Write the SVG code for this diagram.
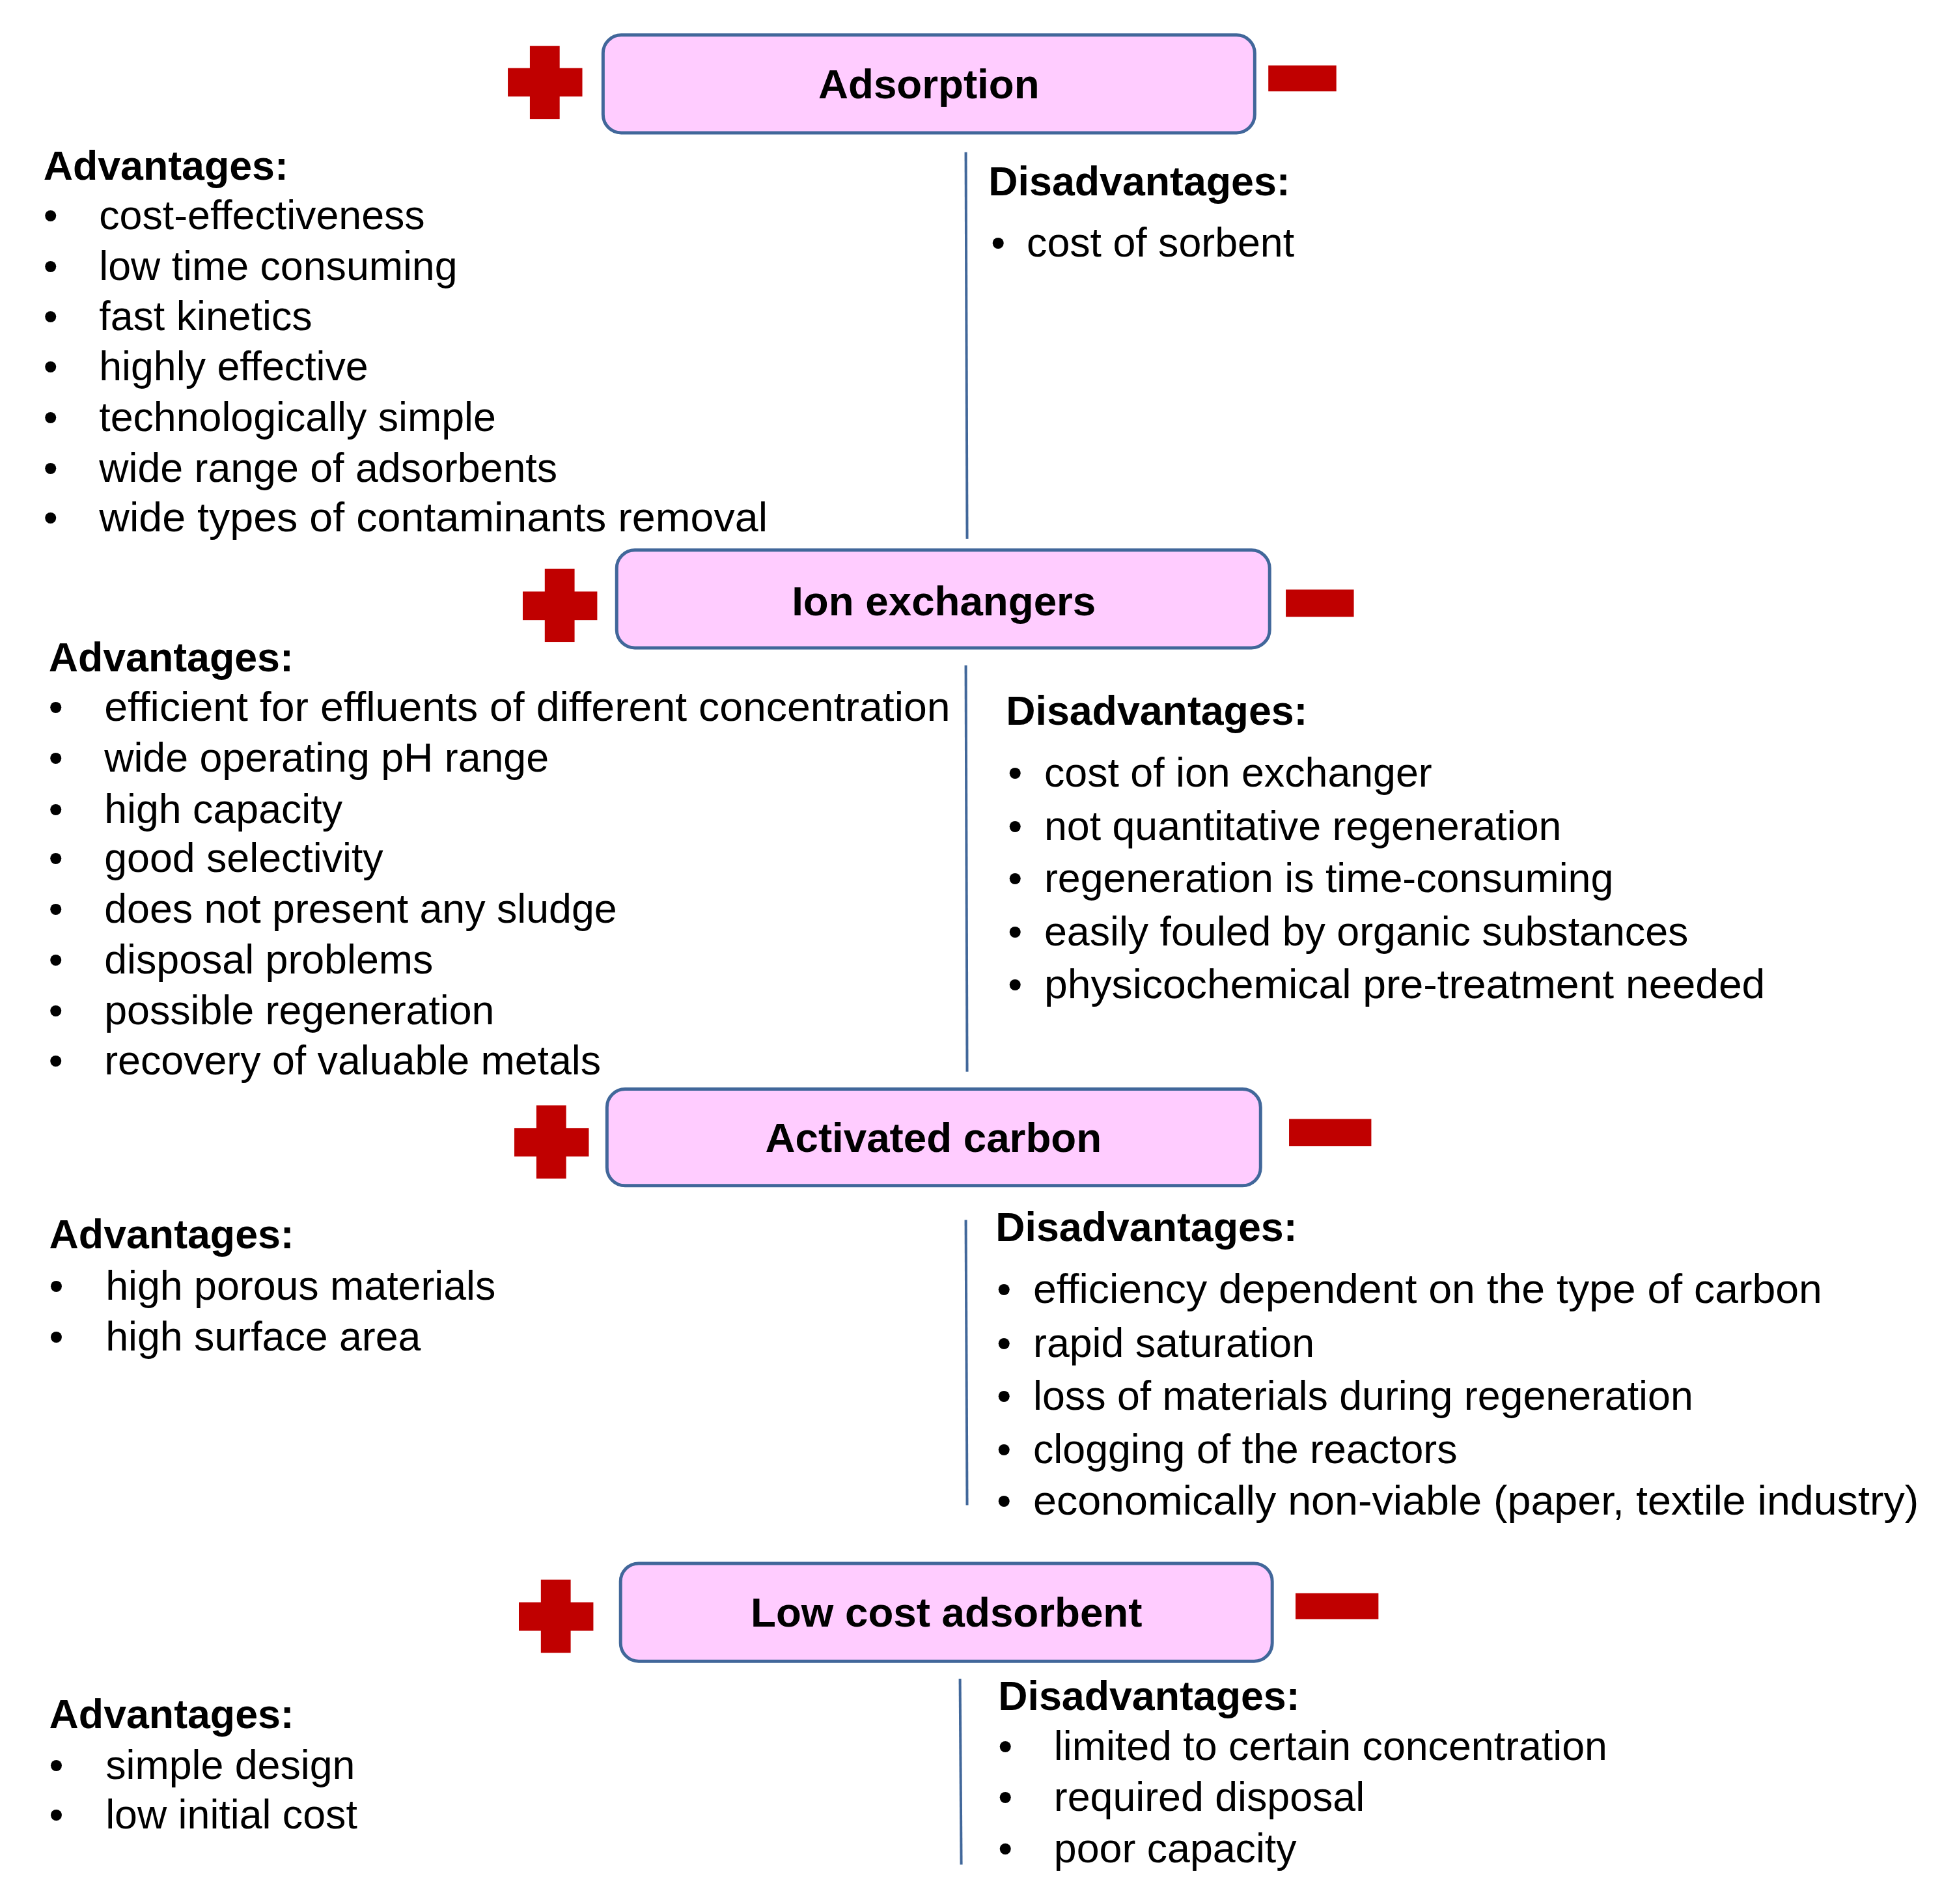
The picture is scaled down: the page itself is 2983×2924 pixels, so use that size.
<svg xmlns="http://www.w3.org/2000/svg" width="2983" height="2924" viewBox="0 0 2983 2924">
<style>
.box{fill:#ffccff;stroke:#41679a;stroke-width:5}
.t{font-family:"Liberation Sans",Arial,sans-serif;font-weight:bold;font-size:64px;text-anchor:middle}
.h{font-family:"Liberation Sans",Arial,sans-serif;font-weight:bold;font-size:63px}
.b{font-family:"Liberation Sans",Arial,sans-serif;font-size:63px}
.r{fill:#c00000}
.ln{stroke:#41679a;stroke-width:4;fill:none}
</style>
<rect width="2983" height="2924" fill="#fff"/>
<g transform="scale(0.995)">
<g id="connectors">
<line class="ln" x1="1491" y1="235" x2="1493" y2="832"/>
<line class="ln" x1="1491" y1="1027" x2="1493" y2="1654"/>
<line class="ln" x1="1491" y1="1883" x2="1493" y2="2323"/>
<line class="ln" x1="1482" y1="2591" x2="1484" y2="2878"/>
</g>
<g id="adsorption">
<rect class="box" x="931" y="54" width="1006" height="151" rx="28"/>
<text class="t" x="1434" y="152">Adsorption</text>
<rect class="r" x="818" y="71" width="46" height="113"/><rect class="r" x="784" y="105" width="115" height="44"/>
<rect class="r" x="1958" y="101" width="105" height="40"/>
</g>
<g id="adsorption-adv">
<text class="h" x="67" y="277">Advantages:</text>
<g class="b">
<text x="67" y="354">•</text><text x="153" y="354">cost-effectiveness</text>
<text x="67" y="432">•</text><text x="153" y="432">low time consuming</text>
<text x="67" y="510">•</text><text x="153" y="510">fast kinetics</text>
<text x="67" y="587">•</text><text x="153" y="587">highly effective</text>
<text x="67" y="665">•</text><text x="153" y="665">technologically simple</text>
<text x="67" y="744">•</text><text x="153" y="744">wide range of adsorbents</text>
<text x="67" y="820">•</text><text x="153" y="820" textLength="1032" lengthAdjust="spacingAndGlyphs">wide types of contaminants removal</text>
</g>
</g>
<g id="adsorption-dis">
<text class="h" x="1526" y="302">Disadvantages:</text>
<g class="b"><text x="1530" y="396">•</text><text x="1585" y="396">cost of sorbent</text></g>
</g>
<g id="ion">
<rect class="box" x="952" y="849" width="1008" height="151" rx="28"/>
<text class="t" x="1457" y="950">Ion exchangers</text>
<rect class="r" x="841" y="878" width="46" height="113"/><rect class="r" x="807" y="913" width="115" height="44"/>
<rect class="r" x="1985" y="910" width="105" height="42"/>
</g>
<g id="ion-adv">
<text class="h" x="75" y="1036">Advantages:</text>
<g class="b">
<text x="75" y="1113">•</text><text x="161" y="1113" textLength="1306" lengthAdjust="spacingAndGlyphs">efficient for effluents of different concentration</text>
<text x="75" y="1191">•</text><text x="161" y="1191">wide operating pH range</text>
<text x="75" y="1270">•</text><text x="161" y="1270">high capacity</text>
<text x="75" y="1346">•</text><text x="161" y="1346">good selectivity</text>
<text x="75" y="1424">•</text><text x="161" y="1424">does not present any sludge</text>
<text x="75" y="1503">•</text><text x="161" y="1503">disposal problems</text>
<text x="75" y="1581">•</text><text x="161" y="1581">possible regeneration</text>
<text x="75" y="1658">•</text><text x="161" y="1658">recovery of valuable metals</text>
</g>
</g>
<g id="ion-dis">
<text class="h" x="1553" y="1119">Disadvantages:</text>
<g class="b">
<text x="1556" y="1214">•</text><text x="1612" y="1214">cost of ion exchanger</text>
<text x="1556" y="1296">•</text><text x="1612" y="1296">not quantitative regeneration</text>
<text x="1556" y="1377">•</text><text x="1612" y="1377">regeneration is time-consuming</text>
<text x="1556" y="1459">•</text><text x="1612" y="1459">easily fouled by organic substances</text>
<text x="1556" y="1541">•</text><text x="1612" y="1541" textLength="1113" lengthAdjust="spacingAndGlyphs">physicochemical pre-treatment needed</text>
</g>
</g>
<g id="carbon">
<rect class="box" x="937" y="1681" width="1009" height="149" rx="28"/>
<text class="t" x="1441" y="1778">Activated carbon</text>
<rect class="r" x="828" y="1706" width="46" height="113"/><rect class="r" x="794" y="1741" width="115" height="44"/>
<rect class="r" x="1990" y="1727" width="127" height="42"/>
</g>
<g id="carbon-adv">
<text class="h" x="76" y="1927">Advantages:</text>
<g class="b">
<text x="76" y="2006">•</text><text x="163" y="2006">high porous materials</text>
<text x="76" y="2084">•</text><text x="163" y="2084">high surface area</text>
</g>
</g>
<g id="carbon-dis">
<text class="h" x="1537" y="1916">Disadvantages:</text>
<g class="b">
<text x="1539" y="2011">•</text><text x="1595" y="2011" textLength="1218" lengthAdjust="spacingAndGlyphs">efficiency dependent on the type of carbon</text>
<text x="1539" y="2094">•</text><text x="1595" y="2094">rapid saturation</text>
<text x="1539" y="2176">•</text><text x="1595" y="2176">loss of materials during regeneration</text>
<text x="1539" y="2258">•</text><text x="1595" y="2258">clogging of the reactors</text>
<text x="1539" y="2338">•</text><text x="1595" y="2338" textLength="1367" lengthAdjust="spacingAndGlyphs">economically non-viable (paper, textile industry)</text>
</g>
</g>
<g id="lowcost">
<rect class="box" x="958" y="2413" width="1006" height="151" rx="28"/>
<text class="t" x="1461" y="2511">Low cost adsorbent</text>
<rect class="r" x="835" y="2438" width="46" height="113"/><rect class="r" x="801" y="2473" width="115" height="44"/>
<rect class="r" x="2000" y="2459" width="128" height="40"/>
</g>
<g id="lowcost-adv">
<text class="h" x="76" y="2667">Advantages:</text>
<g class="b">
<text x="76" y="2746">•</text><text x="163" y="2746">simple design</text>
<text x="76" y="2822">•</text><text x="163" y="2822">low initial cost</text>
</g>
</g>
<g id="lowcost-dis">
<text class="h" x="1541" y="2639">Disadvantages:</text>
<g class="b">
<text x="1541" y="2717">•</text><text x="1627" y="2717">limited to certain concentration</text>
<text x="1541" y="2795">•</text><text x="1627" y="2795">required disposal</text>
<text x="1541" y="2874">•</text><text x="1627" y="2874">poor capacity</text>
</g>
</g>
</g>
</svg>
